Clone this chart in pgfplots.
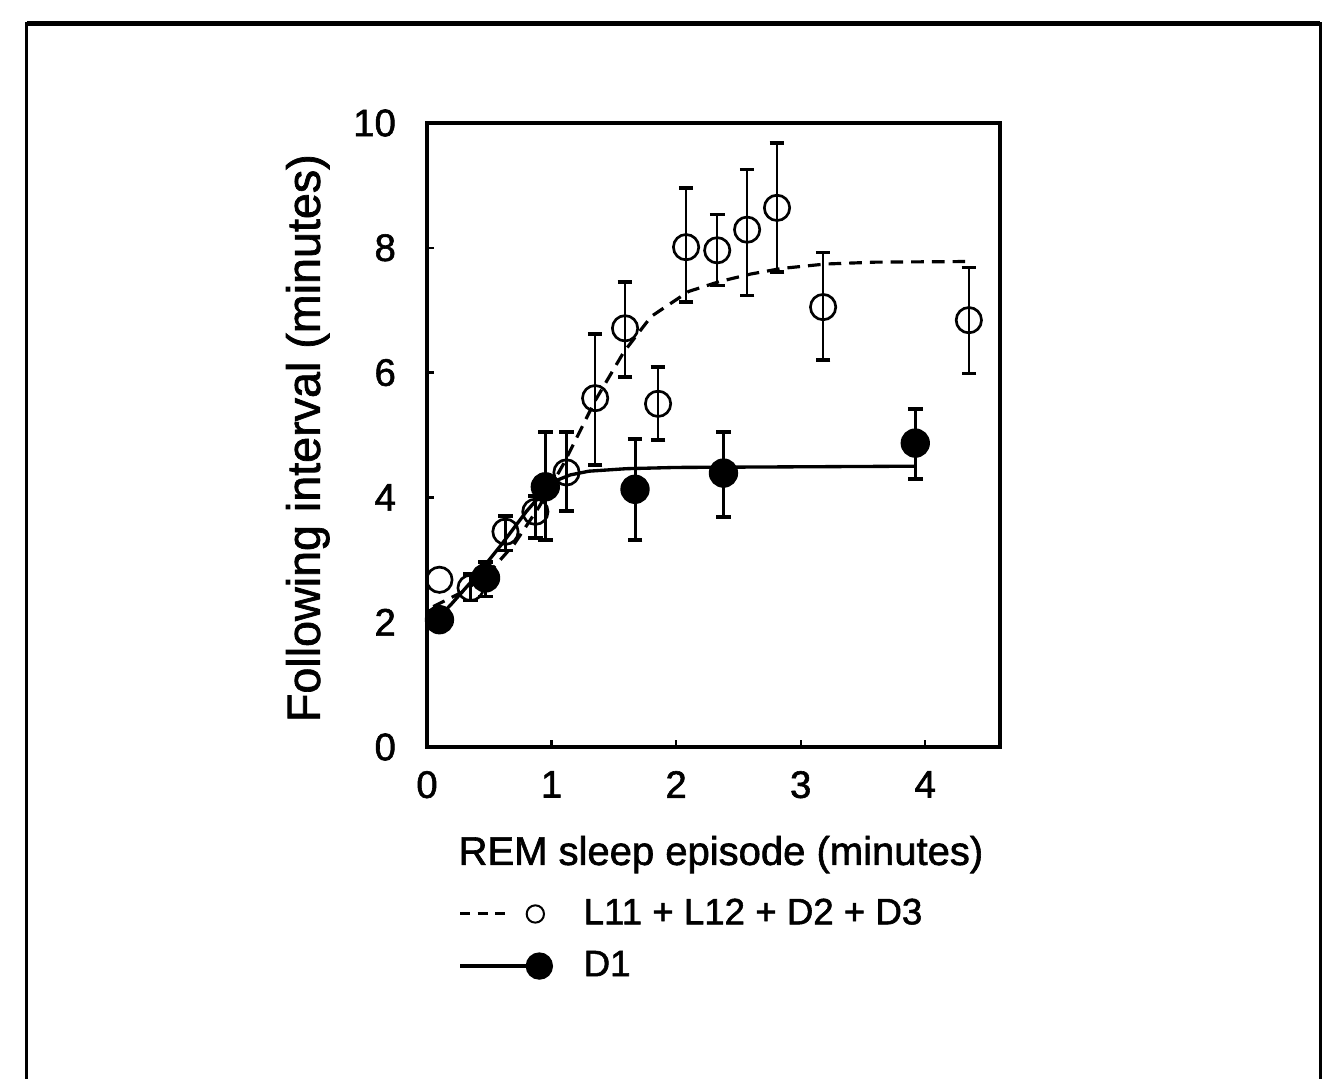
\documentclass[border=0pt]{standalone}
\usepackage{fontspec}
\setmainfont{Liberation Sans}[FakeBold=1.5]
\usepackage{pgfplots}
\pgfplotsset{compat=1.18}
\usepackage{pgfplotstable}

\pgfplotstableread{
x     y     ep    em
0.35  2.55  0.22  0.20
0.63  3.45  0.25  0.30
0.87  3.77  0.25  0.42
1.12  4.40  0.65  0.62
1.35  5.59  1.03  1.07
1.59  6.71  0.74  0.78
1.855 5.50  0.59  0.58
2.08  8.01  0.95  0.88
2.33  7.96  0.57  0.56
2.57  8.29  0.96  1.05
2.81  8.64  1.04  1.03
3.18  7.05  0.87  0.85
4.35  6.84  0.84  0.85
}\opendata

\pgfplotstableread{
x     y
0.10  2.68
}\openfirst

\pgfplotstableread{
x     y     ep    em
0.10  2.04  0.05  0.05
0.47  2.71  0.25  0.30
0.95  4.17  0.88  0.85
1.67  4.13  0.81  0.81
2.38  4.39  0.66  0.70
3.92  4.87  0.55  0.58
}\filleddata

\pgfplotstableread{
x    y
0.05 2.25
0.30 2.50
0.50 2.80
0.70 3.25
0.90 3.85
1.10 4.55
1.35 5.55
1.58 6.33
1.80 6.90
2.10 7.30
2.35 7.46
2.60 7.58
2.85 7.67
3.20 7.74
3.60 7.77
4.33 7.78
}\dashfit

\pgfplotstableread{
x    y
0.05 1.98
0.20 2.30
0.40 2.75
0.60 3.25
0.80 3.78
0.95 4.12
1.05 4.28
1.15 4.36
1.30 4.42
1.60 4.46
2.00 4.48
3.92 4.50
}\solidfit

\begin{document}
\begin{tikzpicture}
\path[use as bounding box] (-128.1pt,-99.6pt) rectangle (273.6pt,224.1pt);
\draw[line width=0.9pt] (-120pt,-115pt) -- (-120pt,216.9pt) -- (267.9pt,216.9pt) -- (267.9pt,-115pt);
\draw[line width=1.5pt] (-120pt,216.9pt) -- (267.9pt,216.9pt);
\begin{axis}[
  scale only axis, width=171.9pt, height=187.2pt,
  xmin=0, xmax=4.6, ymin=0, ymax=10,
  xtick={0,1,2,3,4}, ytick={0,2,4,6,8,10},
  tick pos=left, tick align=inside, major tick length=2pt,
  axis line style={line width=1pt},
  tick style={line width=0.7pt, black},
  /pgf/number format/assume math mode=true,
  ticklabel style={font=\fontsize{11.5}{13}\selectfont},
  yticklabel style={xshift=-5.8pt},
  xticklabel style={yshift=-3.7pt},
  xlabel={REM sleep episode (minutes)},
  ylabel={Following interval (minutes)},
  xlabel style={at={(axis cs:2.36,-1.89)}, anchor=base, inner sep=0pt, font=\fontsize{12}{14}\selectfont},
  ylabel style={at={(axis cs:-0.86,4.95)}, anchor=base, inner sep=0pt, font=\fontsize{14}{16}\selectfont},
  legend style={at={(axis cs:0.249,-2.42)}, anchor=north west, draw=none, fill=none, inner sep=0pt,
    column sep=9pt, row sep=6.5pt, font=\fontsize{11}{13}\selectfont, nodes={inner sep=0pt}},
  legend cell align=left,
  clip=false,
]
\addplot[black, line width=0.95pt, dash pattern=on 3.8pt off 2.4pt,
  legend image code/.code={
    \path[draw=none, fill=none] (0pt,-4pt) rectangle (28pt,4pt);
    \draw[black, solid, line width=0.9pt, dash pattern=on 3pt off 2.2pt] (0pt,0pt) -- (14pt,0pt);
    \draw[black, solid, line width=0.6pt, fill=white] (22.5pt,0pt) circle (2.6pt);
  }] table[x=x,y=y] {\dashfit};
\addlegendentry{L11 + L12 + D2 + D3}
\addplot[black, line width=1pt,
  legend image code/.code={
    \path[draw=none, fill=none] (0pt,-4pt) rectangle (28pt,4pt);
    \draw[black, solid, line width=1pt] (0pt,0pt) -- (20pt,0pt);
    \fill[black] (23.7pt,0pt) circle (3.6pt);
  }] table[x=x,y=y] {\solidfit};
\addlegendentry{D1}

\addplot[forget plot, only marks, black, mark=o, mark size=3.8pt,
  mark options={line width=0.8pt, fill=white, draw=black}]
  table[x=x, y=y] {\openfirst};

\addplot[forget plot, only marks, black, mark=o, mark size=3.8pt,
  mark options={line width=0.8pt, fill=white, draw=black},
  error bars/.cd, y dir=both, y explicit,
  error bar style={line width=0.7pt, black},
  error mark options={rotate=90, mark size=2.2pt, line width=1pt}]
  table[x=x, y=y, y error plus=ep, y error minus=em] {\opendata};

\addplot[forget plot, only marks, black, mark=*, mark size=4.2pt,
  mark options={fill=black, draw=black},
  error bars/.cd, y dir=both, y explicit,
  error bar style={line width=0.9pt, black},
  error mark options={rotate=90, mark size=2.2pt, line width=1.1pt}]
  table[x=x, y=y, y error plus=ep, y error minus=em] {\filleddata};
\end{axis}
\end{tikzpicture}
\end{document}
